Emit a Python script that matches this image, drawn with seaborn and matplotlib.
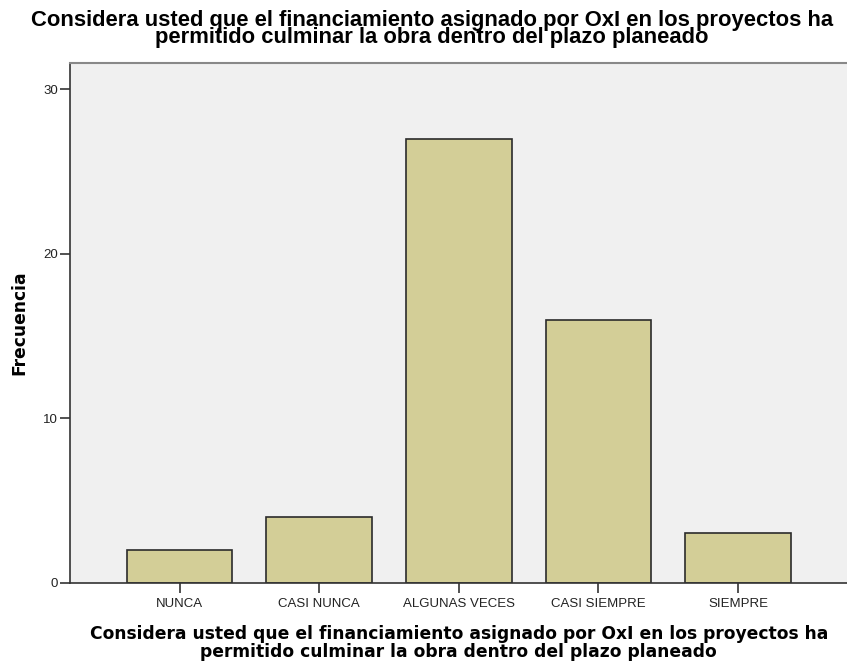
import matplotlib
matplotlib.use("Agg")
import matplotlib.pyplot as plt
import seaborn as sns
import pandas as pd

categories = ["NUNCA", "CASI NUNCA", "ALGUNAS VECES", "CASI SIEMPRE", "SIEMPRE"]
frecuencia = [2, 4, 27, 16, 3]
yticks = [0, 10, 20, 30]
title = "Considera usted que el financiamiento asignado por OxI en los proyectos ha\npermitido culminar la obra dentro del plazo planeado"

df = pd.DataFrame({"cat": categories, "freq": frecuencia})

sns.set_theme(style="white")
plt.rcParams["font.family"] = ["Liberation Sans", "DejaVu Sans"]

fig = plt.figure(figsize=(8.47, 6.66), dpi=100)
ax = fig.add_axes([0.0832, 0.125, 0.9168, 0.781])
ax.set_facecolor("#F0F0F0")

sns.barplot(data=df, x="cat", y="freq", order=categories, color="#D3CE97",
            saturation=1, width=0.757, edgecolor="#2b2b2b", linewidth=1.2, ax=ax)

ax.set_xlim(-0.782, 4.78)
ax.set_ylim(0, 31.62)
ax.set_yticks(yticks)
ax.set_yticklabels([str(v) for v in yticks], fontsize=9.5)
ax.tick_params(axis="both", direction="out", length=7, width=1.2, color="#333333",
               labelcolor="#222222", bottom=True, left=True)
ax.tick_params(axis="x", labelsize=9.5, pad=4)
ax.tick_params(axis="y", pad=2)

for s in ["left", "bottom"]:
    ax.spines[s].set_color("#333333")
    ax.spines[s].set_linewidth(1.2)
ax.spines["top"].set_color("#888888")
ax.spines["top"].set_linewidth(1.5)
ax.spines["right"].set_visible(False)

ax.set_xlabel(title, fontsize=12.3, fontweight="bold", labelpad=11, linespacing=0.95,
              family="DejaVu Sans", color="black")
ax.set_ylabel("Frecuencia", fontsize=12.3, fontweight="bold", family="DejaVu Sans",
              color="black")
ax.yaxis.set_label_coords(-0.0547, 0.5)
fig.text(0.51, 0.985, title, ha="center", va="top", fontsize=15.8, fontweight="bold",
         linespacing=0.78, color="black")

fig.savefig("out.png", dpi=100, facecolor="white")
